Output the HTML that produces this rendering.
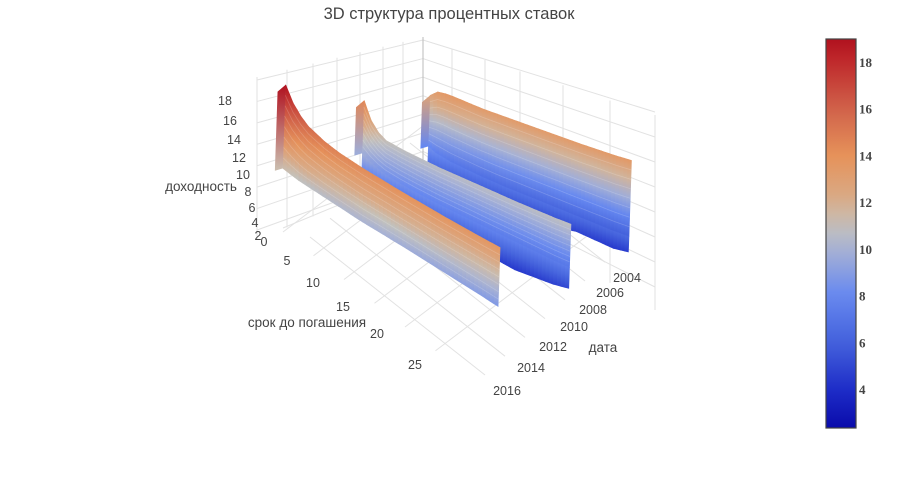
<!DOCTYPE html>
<html><head><meta charset="utf-8">
<style>
html,body{margin:0;padding:0;background:#fff;}
svg{display:block;font-family:"Liberation Sans","DejaVu Sans",sans-serif;}
</style></head>
<body>
<svg id="chart" width="898" height="482" viewBox="0 0 898 482" xmlns="http://www.w3.org/2000/svg">
<rect width="898" height="482" fill="#fff"/>
<defs id="defs"></defs>
<g id="grid" stroke="#e2e2e2" stroke-width="1" fill="none"></g>
<g id="surface"></g>
<g id="labels" fill="#444" font-size="12.5"></g>
<text x="449" y="19" text-anchor="middle" font-size="16.5" fill="#444">3D структура процентных ставок</text>
<g id="colorbar"></g>
</svg>
<script>
// ---- data ----
const maturities = [0, 1, 2, 3, 5, 7, 10, 15, 20, 25, 27];
const ridgeDates = [2004.5, 2009.5, 2015.5];
const ridgeTop = [
  [12.8, 13.5, 13.6, 13.6, 13.5, 13.4, 13.4, 13.4, 13.4, 13.5, 13.6],
  [14.5, 12.6, 11.6, 11.1, 10.9, 10.8, 10.7, 10.7, 10.7, 10.8, 10.9],
  [19.0, 17.4, 16.4, 15.7, 15.0, 14.6, 14.3, 14.0, 13.8, 13.7, 13.7]
];
const ridgeBottom = [
  [7.0, 6.6, 6.4, 6.2, 6.0, 5.8, 5.6, 5.4, 5.2, 5.0, 5.0],
  [8.5, 8.0, 7.6, 7.3, 7.0, 6.8, 6.6, 6.4, 6.2, 6.0, 6.0],
  [9.5, 9.3, 9.1, 9.0, 8.8, 8.6, 8.3, 8.0, 7.6, 7.2, 7.0]
];
const skirtBottom = [
  [3.4, 3.0, 2.8, 2.8, 3.2, 3.0, 2.6, 2.8, 3.4, 3.0, 3.2],
  [4.2, 3.6, 3.4, 3.8, 3.3, 3.6, 3.2, 3.5, 3.0, 3.3, 3.6],
  [null, null, null, null, null, null, null, null, null, null, null]
];
const zTicks = [0, 2, 4, 6, 8, 10, 12, 14, 16, 18];
const mTicks = [0, 5, 10, 15, 20, 25];
const dateTicks = [2004, 2006, 2008, 2010, 2012, 2014, 2016];
const cbTicks = [4, 6, 8, 10, 12, 14, 16, 18];
const cbMin = 2.33, cbMax = 18.98;

// ---- colour scale ----
const cs = [[2.3,[10,10,170]],[4,[30,45,200]],[6,[68,98,220]],[8,[102,136,240]],[10,[168,178,212]],[11,[196,194,188]],[12,[216,172,138]],[14,[230,146,90]],[16,[208,98,74]],[18,[192,42,44]],[19,[176,16,30]]];
function col(z){
  if(z<=cs[0][0]) return rgb(cs[0][1]);
  for(let i=1;i<cs.length;i++){
    if(z<=cs[i][0]){const a=cs[i-1],b=cs[i],f=(z-a[0])/(b[0]-a[0]);
      return rgb(a[1].map((v,k)=>v+(b[1][k]-v)*f));}
  }
  return rgb(cs[cs.length-1][1]);
}
function rgb(c){return 'rgb('+c.map(v=>Math.round(v)).join(',')+')';}
const colShift=[1.0,1.2,1.8];
function shade(z,ri,zt){ // lighten lower parts to mimic stacked ribbons
  const s=colShift[ri];
  return col(Math.min(zt, z + s*(zt-z)/(zt>0?zt:1)*1.6));
}

// ---- projection ----
const NS='http://www.w3.org/2000/svg';
function P(m,t,z){
  const dt=2015.5-t;
  const mx=8.0-dt*0.05, my=4.3-dt*0.148;
  return [280+m*mx+dt*13.3+z*0.3, 252+m*my-dt*4+z*(-8.8)];
}
function interp(arr,m){
  for(let i=1;i<maturities.length;i++){
    if(m<=maturities[i]){const f=(m-maturities[i-1])/(maturities[i]-maturities[i-1]);
      const a=arr[i-1],b=arr[i]; return a+(b-a)*f;}
  }
  return arr[arr.length-1];
}
const defs=document.getElementById('defs');
const grid=document.getElementById('grid');
const surf=document.getElementById('surface');
const labels=document.getElementById('labels');
function el(tag,attrs,parent){const e=document.createElementNS(NS,tag);for(const k in attrs)e.setAttribute(k,attrs[k]);parent.appendChild(e);return e;}

// ---- grid ----
function line(x1,y1,x2,y2){const l=el('line',{x1,y1,x2,y2},grid);

}
[257,287,313,337,360,383,403,423].forEach(x=>{const f=(x-257)/166;line(x,77-f*40,x,240-f*70);});
for(let i=0;i<8;i++){const f=i/7;line(257,80+f*150,423,40+f*130);}
[452,485,520,563,610,655].forEach(x=>{const f=(x-423)/232;line(x,40+f*75,x,170+f*140);});
for(let i=0;i<8;i++){const f=i/7;line(423,40+f*130,655,112+f*175);}
// floor maturity lines
mTicks.forEach(m=>{const sx=283+m*6.1,sy=232+m*4.75;line(sx,sy,sx+165,sy-125);});
// floor date lines
dateTicks.forEach(d=>{const sx=485+(2016-d)*10,sy=375-(2016-d)*9.4;line(sx,sy,sx-175,sy-138);});
line(283,228,423,170);
el('line',{x1:423,y1:37,x2:423,y2:170,stroke:'#bbb','stroke-width':1},grid);

// ---- ridges ----
let gid=0;
function ribbon(ri,topArr,botArr,isSkirt){
  const t=ridgeDates[ri];
  const step=0.5;
  for(let m=0;m<27;m+=step){
    const m2=Math.min(27,m+step);
    const zt1=interp(topArr,m),zt2=interp(topArr,m2);
    const zb1=interp(botArr,m),zb2=interp(botArr,m2);
    const a=P(m,t,zt1),b=P(m2,t,zt2),c=P(m2,t,zb2),d=P(m,t,zb1);
    const id='g'+(gid++);
    const g=el('linearGradient',{id,gradientUnits:'userSpaceOnUse',x1:a[0],y1:a[1],x2:d[0],y2:d[1]},defs);
    for(let k=0;k<=4;k++){const z=zt1+(zb1-zt1)*k/4;
      const c2 = isSkirt ? col(z+1.5) : col(Math.min(zt1, z + colShift[ri]*k/4));
      el('stop',{offset:k/4,'stop-color':c2},g);}
    const poly=el('polygon',{points:[a,b,c,d].map(p=>p[0].toFixed(1)+','+p[1].toFixed(1)).join(' '),fill:'url(#'+id+')',stroke:'url(#'+id+')','stroke-width':0.6},surf);
    
    
  }
  if(!isSkirt){
    const a=P(0,t,interp(topArr,0)),d=P(0,t,interp(botArr,0));
    const b=P(0,t+0.6,interp(topArr,0)-0.5),c=P(0,t+0.6,interp(botArr,0));
    const id='g'+(gid++);
    const g=el('linearGradient',{id,gradientUnits:'userSpaceOnUse',x1:a[0],y1:a[1],x2:d[0],y2:d[1]},defs);
    el('stop',{offset:0,'stop-color':col(interp(topArr,0))},g);
    el('stop',{offset:1,'stop-color':col(interp(botArr,0)+colShift[ri])},g);
    const f=el('polygon',{points:[a,b,c,d].map(p=>p.join(',')).join(' '),fill:'url(#'+id+')'},surf);
    
    
    for(let k=1;k<8;k++){
      const pts=[];
      for(let m=0;m<=27;m+=1){const zt=interp(topArr,m),zb=interp(botArr,m);pts.push(P(m,t,zt+(zb-zt)*k/8));}
      const pl=el('polyline',{points:pts.map(p=>p[0].toFixed(1)+','+p[1].toFixed(1)).join(' '),fill:'none',stroke:'#fff','stroke-opacity':0.18,'stroke-width':0.8},surf);
      
      
    }
  }
}
for(let ri=0;ri<ridgeDates.length;ri++){
  if(skirtBottom[ri][0]!==null) ribbon(ri,ridgeBottom[ri],skirtBottom[ri],true);
  ribbon(ri,ridgeTop[ri],ridgeBottom[ri],false);
}

// ---- axis labels ----
const zPos=[[264,242],[258,236],[255,223],[252,208],[248,192],[243,175],[239,158],[234,140],[230,121],[225,101]];
zTicks.forEach((v,i)=>{if(v===0)return;const t=el('text',{x:zPos[i][0],y:zPos[i][1]+4,'text-anchor':'middle'},labels);t.textContent=v;

});
const mPos=[[264,242],[287,261],[313,283],[343,307],[377,334],[415,365]];
mTicks.forEach((v,i)=>{const t=el('text',{x:mPos[i][0],y:mPos[i][1]+4,'text-anchor':'middle'},labels);t.textContent=v;

});
const dPos=[[627,278],[610,293],[593,310],[574,327],[553,347],[531,368],[507,391]];
dateTicks.forEach((v,i)=>{const t=el('text',{x:dPos[i][0],y:dPos[i][1]+4,'text-anchor':'middle'},labels);t.textContent=v;

});
[['доходность',201,191,'z-axis-title'],['срок до погашения',307,327,'maturity-axis-title'],['дата',603,352,'date-axis-title']].forEach(a=>{
  const t=el('text',{x:a[1],y:a[2],'text-anchor':'middle','font-size':13.5},labels);t.textContent=a[0];
  
  });

// ---- colorbar ----
const cb=document.getElementById('colorbar');
const cg=el('linearGradient',{id:'cbgrad',x1:0,y1:1,x2:0,y2:0},defs);
for(let k=0;k<=20;k++){const z=cbMin+(cbMax-cbMin)*k/20;el('stop',{offset:k/20,'stop-color':col(z)},cg);}
const cr=el('rect',{x:826,y:39,width:30,height:389,fill:'url(#cbgrad)',stroke:'#444','stroke-width':1.2},cb);


cbTicks.forEach(v=>{const y=428-(v-cbMin)/(cbMax-cbMin)*389;
  const t=el('text',{x:859,y:y+5,'font-size':13,'font-weight':'bold','font-family':'"Liberation Serif",serif',fill:'#444'},cb);t.textContent=v;
  
  });
</script>
</body></html>
